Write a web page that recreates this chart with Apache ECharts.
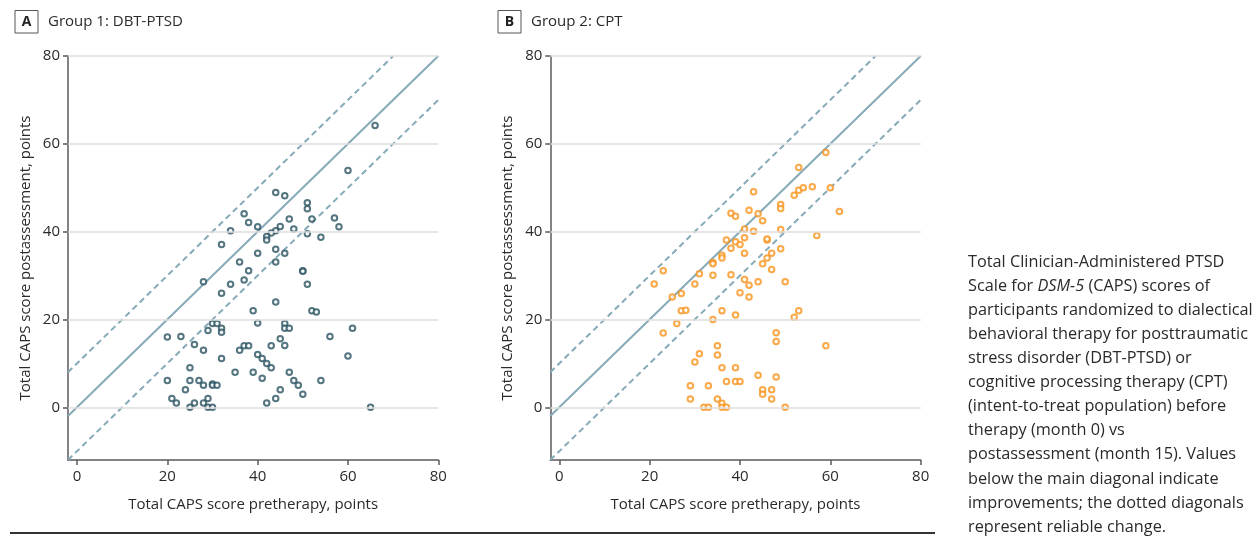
<!DOCTYPE html>
<html>
<head>
<meta charset="utf-8">
<script src="https://cdn.jsdelivr.net/npm/echarts@6/dist/echarts.min.js"></script>
<style>
html,body{margin:0;padding:0;background:#fff;}
#chart{width:1258px;height:536px;}
</style>
</head>
<body>
<div id="chart"></div>
<script>
// ---- Data ----
const xTicks = [0, 20, 40, 60, 80];
const yTicks = [0, 20, 40, 60, 80];
const reliableChange = 10;

// Group 1: DBT-PTSD [pretherapy, postassessment]
const dbtPoints = [
  [66,64.2],[60,53.9],[44,48.9],[46,48.2],[51,46.6],[51,45.2],[37,44.1],[38,42.1],[47,42.9],[52,42.9],
  [57,43.1],[58,41.1],[40,41.1],[34,40.2],[45,41.2],[48,40.6],[44,40.2],[43,39.7],[42,38.9],[42,38.1],
  [51,39.5],[54,38.7],[32,37.1],[40,35.1],[44,36.0],[46,35.1],[36,33.1],[44,33.1],[38,31.1],[50,31.1],
  [50,31.0],[37,29.0],[34,28.0],[28,28.6],[32,26.0],[51,28.0],[44,24.0],[39,22.0],[52,22.0],[53,21.7],
  [40,19.2],[30,19.1],[31,19.1],[32,18.0],[32,17.1],[29,17.5],[46,19.1],[46,18.0],[47,18.0],[61,18.0],
  [20,16.0],[23,16.1],[45,15.6],[56,16.1],[26,14.3],[28,13.0],[36,13.0],[37,14.0],[38,14.0],[43,14.0],
  [46,14.1],[32,11.1],[40,12.0],[41,11.1],[42,10.0],[43,9.0],[60,11.7],[25,9.0],[35,8.0],[39,8.0],
  [47,8.0],[41,6.6],[20,6.1],[25,6.1],[27,6.1],[28,5.0],[30,5.3],[30,5.0],[31,5.0],[48,6.1],
  [49,5.0],[54,6.1],[24,4.0],[45,4.0],[50,3.0],[21,2.0],[22,1.0],[26,1.0],[28,1.0],[29,2.0],
  [25,0],[29,0],[30,0],[42,1.0],[44,2.0],[65,0]
];

// Group 2: CPT [pretherapy, postassessment]
const cptPoints = [
  [59,58.0],[53,54.6],[43,49.1],[52,48.3],[53,49.4],[54,50.0],[56,50.2],[60,50.0],[49,46.2],[49,45.3],
  [62,44.6],[42,44.9],[44,44.1],[38,44.2],[39,43.5],[45,42.5],[41,40.6],[43,40.1],[49,40.5],[57,39.1],
  [37,38.1],[39,37.7],[40,37.1],[41,38.6],[46,38.1],[46,38.3],[38,36.2],[41,35.1],[49,36.1],[47,35.1],
  [46,34.0],[36,34.6],[36,34.0],[34,33.0],[34,32.7],[45,32.7],[47,31.4],[23,31.1],[31,30.4],[34,30.1],
  [38,30.2],[21,28.1],[30,28.1],[41,29.1],[42,27.8],[44,28.6],[50,28.6],[27,25.9],[25,25.1],[40,26.1],
  [42,25.1],[27,22.0],[28,22.1],[36,22.0],[39,21.0],[34,20.0],[53,22.0],[52,20.5],[26,19.1],[23,16.9],
  [48,17.0],[48,15.0],[59,14.0],[35,14.0],[35,11.9],[31,12.2],[30,10.3],[36,9.0],[39,9.0],[44,7.3],
  [48,6.9],[37,5.9],[39,5.9],[40,5.9],[29,4.9],[33,4.9],[45,4.0],[45,3.0],[47,4.0],[47,1.9],
  [29,1.9],[35,1.9],[36,0.9],[32,0],[33,0],[36,0],[37,0],[50,0]
];

const xMin = -2, xMax = 80, yMin = -12, yMax = 80;

// ---- Styling ----
const FONT = 'Open Sans';
const TXT = '#2a2a2a';
const AXIS = '#5a5a5a';
const DIAG = '#86aab8';
const GRIDC = '#dedede';

function clipLine(c) {
  // y = x + c clipped to axis ranges
  const x0 = Math.max(xMin, yMin - c), x1 = Math.min(xMax, yMax - c);
  return [[x0, x0 + c], [x1, x1 + c]];
}

const grids = [
  {left: 68, top: 56, width: 370.3, height: 404},
  {left: 550.3, top: 56, width: 370.4, height: 404}
];

function xAxisFor(i) {
  return {
    gridIndex: i, type: 'value', min: xMin, max: xMax,
    name: 'Total CAPS score pretherapy, points', nameLocation: 'middle', nameGap: 37,
    nameTextStyle: {fontSize: 15, color: TXT, fontFamily: FONT},
    axisLine: {show: true, onZero: false, lineStyle: {color: AXIS, width: 1.5}},
    axisTick: {show: true, customValues: xTicks, length: 5, lineStyle: {color: AXIS, width: 1.5}},
    axisLabel: {customValues: xTicks, fontSize: 15, color: TXT, fontFamily: FONT, margin: 9},
    splitLine: {show: false}
  };
}
function yAxisFor(i) {
  return {
    gridIndex: i, type: 'value', min: yMin, max: yMax,
    name: 'Total CAPS score postassessment, points', nameLocation: 'middle', nameGap: 35,
    nameTextStyle: {fontSize: 15, color: TXT, fontFamily: FONT},
    axisLine: {show: true, onZero: false, lineStyle: {color: AXIS, width: 1.5}},
    axisTick: {show: true, customValues: yTicks, length: 5, lineStyle: {color: AXIS, width: 1.5}},
    axisLabel: {customValues: yTicks, fontSize: 15, color: TXT, fontFamily: FONT, margin: 8},
    splitLine: {show: false}
  };
}

function panelSeries(i, pts, color) {
  return [
    {
      type: 'line', xAxisIndex: i, yAxisIndex: i, data: [], z: 1, silent: true,
      markLine: {
        silent: true, symbol: ['none', 'none'], label: {show: false},
        lineStyle: {color: GRIDC, width: 1.5, type: 'solid'},
        data: yTicks.map(v => ({yAxis: v}))
      }
    },
    {type: 'line', xAxisIndex: i, yAxisIndex: i, data: clipLine(0), symbol: 'none', z: 2, silent: true,
     lineStyle: {color: DIAG, width: 2}},
    {type: 'line', xAxisIndex: i, yAxisIndex: i, data: clipLine(reliableChange), symbol: 'none', z: 2, silent: true,
     lineStyle: {color: DIAG, width: 2, type: [6, 4]}},
    {type: 'line', xAxisIndex: i, yAxisIndex: i, data: clipLine(-reliableChange), symbol: 'none', z: 2, silent: true,
     lineStyle: {color: DIAG, width: 2, type: [6, 4]}},
    {type: 'scatter', xAxisIndex: i, yAxisIndex: i, data: pts, z: 3,
     symbol: 'emptyCircle', symbolSize: 5.5,
     itemStyle: {color: color, borderColor: color, borderWidth: 1.5}}
  ];
}

const captionLines = [
  'Total Clinician-Administered PTSD',
  'Scale for {i|DSM-5} (CAPS) scores of',
  'participants randomized to dialectical',
  'behavioral therapy for posttraumatic',
  'stress disorder (DBT-PTSD) or',
  'cognitive processing therapy (CPT)',
  '(intent-to-treat population) before',
  'therapy (month 0) vs',
  'postassessment (month 15). Values',
  'below the main diagonal indicate',
  'improvements; the dotted diagonals',
  'represent reliable change.'
];

const graphics = [];
function header(x, letter, title) {
  graphics.push({type: 'rect', shape: {x: x, y: 10.5, width: 23, height: 22.5},
    style: {fill: '#fff', stroke: '#555', lineWidth: 1}});
  graphics.push({type: 'text', x: x + 11.5, y: 22, style: {text: letter, fontSize: 14, fontWeight: 'bold',
    fontFamily: FONT, fill: '#222', align: 'center', verticalAlign: 'middle'}});
  graphics.push({type: 'text', x: x + 33, y: 22, style: {text: title, fontSize: 15,
    fontFamily: FONT, fill: TXT, align: 'left', verticalAlign: 'middle'}});
}
header(15, 'A', 'Group 1: DBT-PTSD');
header(498, 'B', 'Group 2: CPT');
captionLines.forEach((t, k) => {
  graphics.push({type: 'text', x: 968, y: 262 + k * 24.1, style: {
    text: t, fontSize: 16.3, fontFamily: FONT, fill: TXT, align: 'left', verticalAlign: 'middle',
    rich: {i: {fontStyle: 'italic', fontSize: 16.3, fontFamily: FONT, fill: TXT}}
  }});
});
graphics.push({type: 'line', shape: {x1: 10, y1: 533, x2: 935, y2: 533},
  style: {stroke: '#333', lineWidth: 2}});

const chart = echarts.init(document.getElementById('chart'), null, {renderer: 'canvas'});
chart.setOption({
  animation: false,
  backgroundColor: '#fff',
  grid: grids,
  xAxis: [xAxisFor(0), xAxisFor(1)],
  yAxis: [yAxisFor(0), yAxisFor(1)],
  series: [].concat(panelSeries(0, dbtPoints, '#2b5462'), panelSeries(1, cptPoints, '#f7941d')),
  graphic: graphics
});
</script>
</body>
</html>
